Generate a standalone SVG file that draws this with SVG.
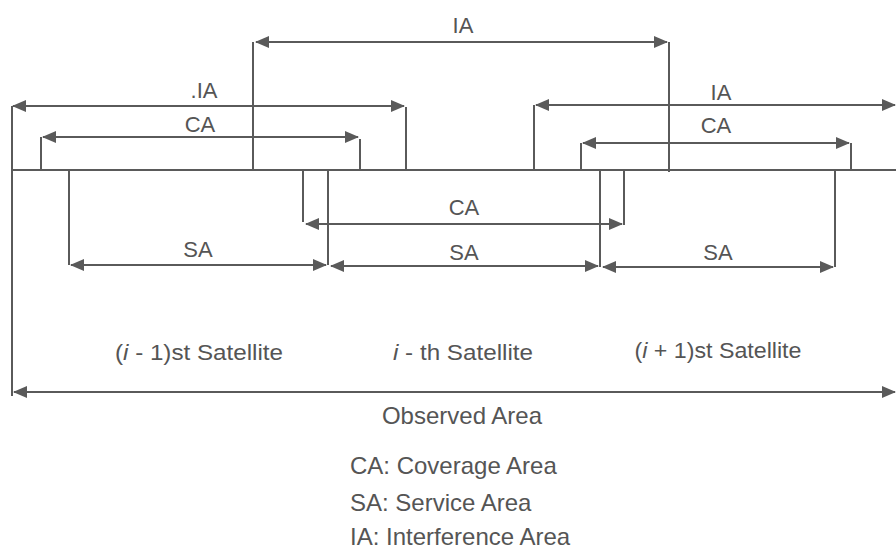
<svg xmlns="http://www.w3.org/2000/svg" width="896" height="553" viewBox="0 0 896 553">
<defs>
<style>
.ln{stroke:#5a5a5a;stroke-width:2;fill:none}
.ar{stroke:#5a5a5a;stroke-width:2;fill:none;marker-start:url(#ah);marker-end:url(#ah)}
.t{font-family:"Liberation Sans",Arial,sans-serif;fill:#555;text-anchor:middle}
.lb{font-size:22px}
.sat{font-size:22px}
.lg{font-size:24px;text-anchor:start}
</style>
<marker id="ah" viewBox="0 0 14 12" refX="13" refY="6" markerWidth="14" markerHeight="12" markerUnits="userSpaceOnUse" orient="auto-start-reverse">
<path d="M0,0 L14,6 L0,12 z" fill="#5a5a5a"/>
</marker>
</defs>
<rect width="896" height="553" fill="#fff"/>
<g id="connectors">
<line class="ln" x1="12" y1="170" x2="896" y2="170"/>
<line class="ln" x1="12" y1="106" x2="12" y2="396"/>
<line class="ln" x1="41" y1="137" x2="41" y2="170"/>
<line class="ln" x1="253" y1="42" x2="253" y2="170"/>
<line class="ln" x1="360" y1="139" x2="360" y2="170"/>
<line class="ln" x1="406" y1="107" x2="406" y2="170"/>
<line class="ln" x1="534" y1="105" x2="534" y2="170"/>
<line class="ln" x1="581" y1="143" x2="581" y2="170"/>
<line class="ln" x1="669" y1="42" x2="669" y2="172"/>
<line class="ln" x1="851" y1="143" x2="851" y2="170"/>
<line class="ln" x1="69" y1="170" x2="69" y2="265"/>
<line class="ln" x1="303" y1="170" x2="303" y2="222"/>
<line class="ln" x1="328" y1="170" x2="328" y2="265"/>
<line class="ln" x1="600" y1="170" x2="600" y2="267"/>
<line class="ln" x1="624" y1="170" x2="624" y2="225"/>
<line class="ln" x1="835" y1="170" x2="835" y2="267"/>
<line class="ar" x1="256" y1="42" x2="667" y2="42"/>
<line class="ar" x1="13" y1="106" x2="404" y2="106"/>
<line class="ar" x1="43" y1="137" x2="358" y2="137"/>
<line class="ar" x1="536" y1="105" x2="895" y2="105"/>
<line class="ar" x1="583" y1="143" x2="849" y2="143"/>
<line class="ar" x1="306" y1="224" x2="622" y2="224"/>
<line class="ar" x1="71" y1="265" x2="326" y2="265"/>
<line class="ar" x1="331" y1="266" x2="598" y2="266"/>
<line class="ar" x1="603" y1="267" x2="833" y2="267"/>
<line class="ar" x1="14" y1="392" x2="895" y2="392"/>
</g>
<g id="labels">
<text class="t lb" x="463" y="33">IA</text>
<text class="t lb" x="204" y="98">.IA</text>
<text class="t lb" x="200" y="132">CA</text>
<text class="t lb" x="721" y="100">IA</text>
<text class="t lb" x="716" y="133">CA</text>
<text class="t lb" x="464" y="215">CA</text>
<text class="t lb" x="198" y="257">SA</text>
<text class="t lb" x="464" y="260">SA</text>
<text class="t lb" x="718" y="260">SA</text>
</g>
<g id="satellites">
<text class="t sat" x="199" y="360" textLength="168" lengthAdjust="spacingAndGlyphs">(<tspan font-style="italic">i</tspan> - 1)st Satellite</text>
<text class="t sat" x="463" y="360" textLength="140" lengthAdjust="spacingAndGlyphs"><tspan font-style="italic">i</tspan> - th Satellite</text>
<text class="t sat" x="718" y="358" textLength="167" lengthAdjust="spacingAndGlyphs">(<tspan font-style="italic">i</tspan> + 1)st Satellite</text>
<text class="t sat" x="462" y="424" style="font-size:24px">Observed Area</text>
</g>
<g id="legend">
<text class="t lg" x="350" y="474">CA: Coverage Area</text>
<text class="t lg" x="350" y="511">SA: Service Area</text>
<text class="t lg" x="350" y="545">IA: Interference Area</text>
</g>
</svg>
